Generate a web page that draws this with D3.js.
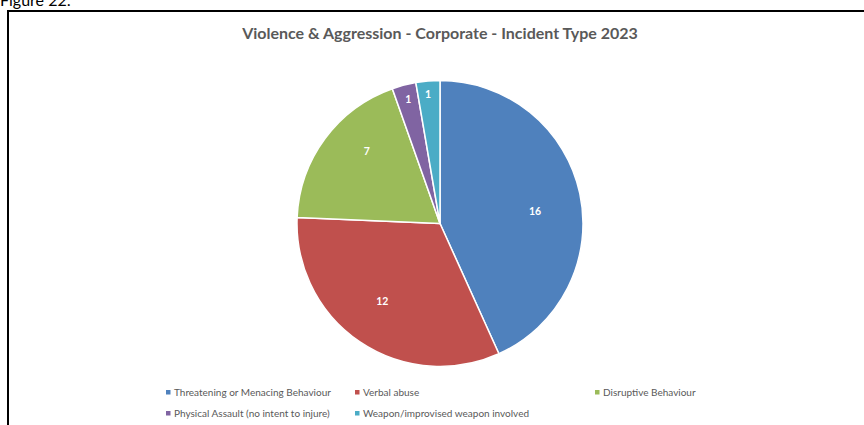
<!DOCTYPE html>
<html>
<head>
<meta charset="utf-8">
<script src="https://cdn.jsdelivr.net/npm/d3@7"></script>
<style>
  html, body { margin: 0; padding: 0; background: #fff; }
  svg { display: block; }
</style>
</head>
<body>
<svg id="chart" width="864" height="425"></svg>
<script>
// Incident categories and their counts for 2023
const categories = [
  "Threatening or Menacing Behaviour",
  "Verbal abuse",
  "Disruptive Behaviour",
  "Physical Assault (no intent to injure)",
  "Weapon/improvised weapon involved"
];
const counts = [16, 12, 7, 1, 1];
const colors = ["#4F81BD", "#C0504D", "#9BBB59", "#8064A2", "#4BACC6"];

const chartTitle = "Violence & Aggression - Corporate - Incident Type 2023";
const figureCaption = "Figure 22:";

// Where each value label sits inside its slice:
// [fraction of radius, fraction of the slice's angular span]
const labelPlacement = [[0.67, 0.53], [0.68, 0.52], [0.72, 0.62], [0.895, 0.53], [0.905, 0.45]];

const W = 864, H = 425;
const svg = d3.select("#chart");
const font = "Lato, 'Open Sans', sans-serif";

// Caption above the chart frame (runs off the top edge)
svg.append("text")
  .attr("x", 0).attr("y", 6)
  .attr("font-family", font).attr("font-size", 16)
  .attr("fill", "#000")
  .text(figureCaption);

// Chart frame: top and left rules
svg.append("line").attr("x1", 7).attr("x2", W).attr("y1", 11).attr("y2", 11)
  .attr("stroke", "#000").attr("stroke-width", 2);
svg.append("line").attr("x1", 8).attr("x2", 8).attr("y1", 10).attr("y2", H)
  .attr("stroke", "#000").attr("stroke-width", 2);

// Title
svg.append("text")
  .attr("x", 440).attr("y", 38.5)
  .attr("text-anchor", "middle")
  .attr("font-family", font).attr("font-size", 16).attr("font-weight", 700)
  .attr("fill", "#595959")
  .text(chartTitle);

// Pie
const cx = 440, cy = 223.5, R = 143;
const pie = d3.pie().value(d => d).sort(null);
const arcs = pie(counts);
const arc = d3.arc().innerRadius(0).outerRadius(R);

const g = svg.append("g").attr("transform", `translate(${cx},${cy})`);
g.selectAll("path.slice")
  .data(arcs)
  .join("path")
  .attr("class", "slice")
  .attr("d", arc)
  .attr("fill", (d, i) => colors[i])
  .attr("stroke", "#fff")
  .attr("stroke-width", 1.5)
  .attr("stroke-linejoin", "round");

function labelPoint(d, i) {
  const [rf, af] = labelPlacement[i];
  const a = d.startAngle + (d.endAngle - d.startAngle) * af;
  const r = R * rf;
  return [r * Math.sin(a), -r * Math.cos(a)];
}

g.selectAll("text.val")
  .data(arcs)
  .join("text")
  .attr("class", "val")
  .attr("transform", (d, i) => `translate(${labelPoint(d, i)})`)
  .attr("text-anchor", "middle")
  .attr("dy", "0.35em")
  .attr("font-family", font).attr("font-size", 10.5).attr("font-weight", 700)
  .attr("fill", "#fff")
  .text(d => d.data);

// Legend: three columns, two rows
const colX = [168, 357, 597];
const rowY = [392, 413];
const leg = svg.append("g");
categories.forEach((c, i) => {
  const x = colX[i % 3], y = rowY[Math.floor(i / 3)];
  const item = leg.append("g").attr("transform", `translate(${x},${y})`);
  item.append("rect").attr("x", -2).attr("y", -2).attr("width", 4.5).attr("height", 4.5)
    .attr("fill", colors[i]);
  item.append("text").attr("x", 6).attr("y", 0.5).attr("dy", "0.35em")
    .attr("font-family", font).attr("font-size", 10)
    .attr("fill", "#595959")
    .text(c);
});
</script>
</body>
</html>
